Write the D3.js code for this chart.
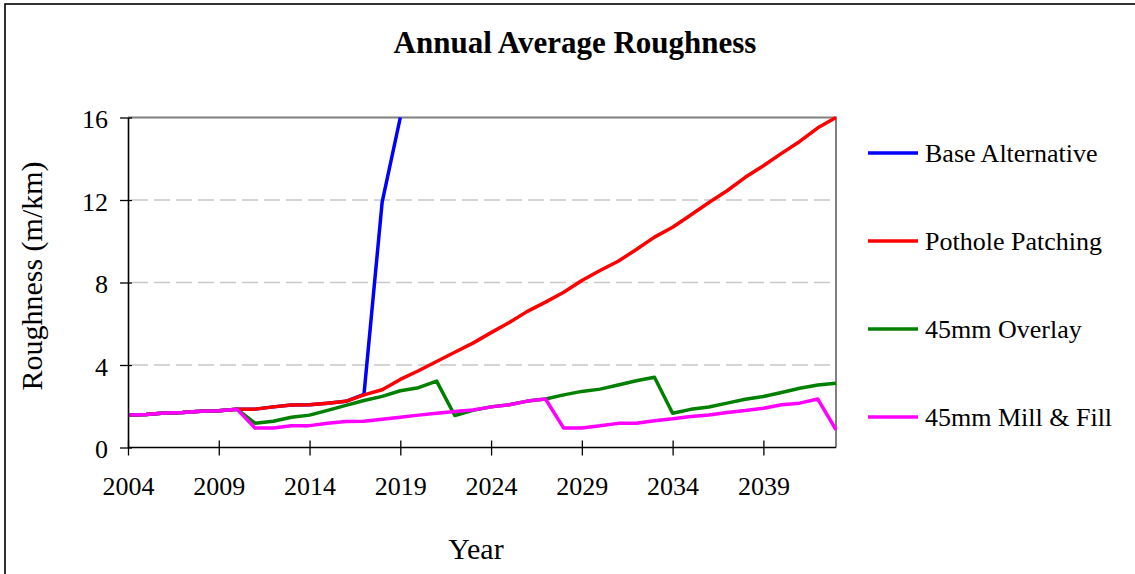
<!DOCTYPE html>
<html>
<head>
<meta charset="utf-8">
<script src="https://cdn.jsdelivr.net/npm/d3@7"></script>
<style>
  html, body { margin: 0; padding: 0; background: #fff; }
  svg { display: block; font-family: "Liberation Serif", "Times New Roman", serif; }
</style>
</head>
<body>
<svg id="chart" width="1135" height="574"></svg>
<script>
// Years on the category axis
const years = d3.range(2004, 2044);
const yearTicks = [2004, 2009, 2014, 2019, 2024, 2029, 2034, 2039];
const roughTicks = [0, 4, 8, 12, 16];

// Annual average roughness (m/km) per treatment alternative
const baseAlternative = [1.58, 1.60, 1.67, 1.70, 1.76, 1.78, 1.86, 1.86, 1.97, 2.06,
  2.07, 2.15, 2.24, 2.58, 11.9, 16.0];
const potholePatching = [1.58, 1.60, 1.67, 1.70, 1.76, 1.78, 1.86, 1.86, 1.97, 2.06,
  2.07, 2.15, 2.24, 2.55, 2.80, 3.30, 3.72, 4.17, 4.62, 5.06,
  5.57, 6.06, 6.60, 7.05, 7.53, 8.10, 8.58, 9.03, 9.60, 10.20,
  10.68, 11.27, 11.88, 12.45, 13.10, 13.66, 14.26, 14.84, 15.50, 16.00];
const overlay45 = [1.58, 1.60, 1.67, 1.70, 1.76, 1.78, 1.86, 1.18, 1.27, 1.47,
  1.57, 1.80, 2.04, 2.28, 2.48, 2.75, 2.90, 3.22, 1.55, 1.80,
  1.97, 2.07, 2.25, 2.35, 2.55, 2.72, 2.83, 3.03, 3.24, 3.41,
  1.66, 1.85, 1.96, 2.15, 2.34, 2.47, 2.67, 2.87, 3.03, 3.12];
const millFill45 = [1.58, 1.60, 1.67, 1.70, 1.76, 1.78, 1.86, 0.94, 0.95, 1.05,
  1.06, 1.18, 1.26, 1.27, 1.37, 1.47, 1.57, 1.66, 1.75, 1.82,
  1.97, 2.07, 2.25, 2.35, 0.94, 0.95, 1.05, 1.17, 1.18, 1.30,
  1.39, 1.50, 1.58, 1.70, 1.79, 1.90, 2.07, 2.15, 2.35, 0.86];

const seriesNames = ["Base Alternative", "Pothole Patching", "45mm Overlay", "45mm Mill & Fill"];
const seriesColors = ["#0000ff", "#ff0000", "#008000", "#ff00ff"];
const seriesValues = [baseAlternative, potholePatching, overlay45, millFill45];

const svg = d3.select("#chart");

// outer chart frame
svg.append("rect")
  .attr("x", 5).attr("y", 4).attr("width", 1200).attr("height", 700)
  .attr("fill", "none").attr("stroke", "#000").attr("stroke-width", 1.6);

const plot = { left: 128, right: 836, top: 117.5, bottom: 447.5 };

const x = d3.scaleLinear().domain([2004, 2043]).range([plot.left, plot.right]);
const y = d3.scaleLinear().domain([0, 16]).range([plot.bottom, plot.top]);

// title
svg.append("text")
  .attr("x", 575).attr("y", 53)
  .attr("text-anchor", "middle")
  .attr("font-size", 31).attr("font-weight", "bold")
  .text("Annual Average Roughness");

// dashed gridlines
svg.append("g").selectAll("line")
  .data(roughTicks.filter(d => d > 0 && d < 16))
  .join("line")
  .attr("x1", plot.left + 4).attr("x2", plot.right - 6)
  .attr("y1", d => y(d)).attr("y2", d => y(d))
  .attr("stroke", "#c8c8c8").attr("stroke-width", 1.5)
  .attr("stroke-dasharray", "16,6");

// plot border (top and right)
svg.append("path")
  .attr("d", `M${plot.left},${plot.top}H${plot.right}V${plot.bottom}`)
  .attr("fill", "none").attr("stroke", "#808080").attr("stroke-width", 2);

// series lines, clipped to the plot area
svg.append("clipPath").attr("id", "plotClip")
  .append("rect")
  .attr("x", plot.left).attr("y", plot.top - 2)
  .attr("width", plot.right - plot.left + 2).attr("height", plot.bottom - plot.top + 2);

const line = d3.line()
  .x((d, i) => x(years[i]))
  .y(d => y(d));

const linesG = svg.append("g").attr("clip-path", "url(#plotClip)");
seriesValues.forEach((vals, k) => {
  linesG.append("path")
    .datum(vals)
    .attr("d", line)
    .attr("fill", "none")
    .attr("stroke", seriesColors[k])
    .attr("stroke-width", 3.5)
    .attr("stroke-linejoin", "round");
});

// x axis
const xAxis = svg.append("g")
  .attr("transform", `translate(0,${plot.bottom})`)
  .call(d3.axisBottom(x).tickValues(yearTicks).tickFormat(d3.format("d")).tickSize(8).tickSizeOuter(0).tickPadding(21));
xAxis.select(".domain").attr("stroke", "#000").attr("stroke-width", 1.6)
  .attr("d", `M${plot.left},0H${plot.right}`);
xAxis.selectAll(".tick line").attr("y1", -7).attr("y2", 8).attr("stroke-width", 1.3);
xAxis.selectAll(".tick text")
  .attr("font-size", 26).attr("font-family", "Liberation Serif").attr("fill", "#000");

// y axis
const yAxis = svg.append("g")
  .attr("transform", `translate(${plot.left},0)`)
  .call(d3.axisLeft(y).tickValues(roughTicks).tickSize(8).tickSizeOuter(0).tickPadding(12));
yAxis.select(".domain").attr("stroke", "#000").attr("stroke-width", 1.6);
yAxis.selectAll(".tick line").attr("x1", -8).attr("x2", 4).attr("stroke-width", 1.3);
yAxis.selectAll(".tick text")
  .attr("font-size", 26).attr("font-family", "Liberation Serif").attr("fill", "#000")
  .attr("dy", "0.4em");

// axis titles
svg.append("text")
  .attr("x", 476).attr("y", 559)
  .attr("text-anchor", "middle").attr("font-size", 30)
  .text("Year");

svg.append("text")
  .attr("transform", "translate(42,276) rotate(-90)")
  .attr("text-anchor", "middle").attr("font-size", 30)
  .text("Roughness (m/km)");

// legend
const legendY = [153, 241, 329, 417];
const legend = svg.append("g");
seriesNames.forEach((name, k) => {
  legend.append("line")
    .attr("x1", 868).attr("x2", 918)
    .attr("y1", legendY[k]).attr("y2", legendY[k])
    .attr("stroke", seriesColors[k]).attr("stroke-width", 3.5);
  legend.append("text")
    .attr("x", 925).attr("y", legendY[k] + 9)
    .attr("font-size", 26)
    .text(name);
});
</script>
</body>
</html>
